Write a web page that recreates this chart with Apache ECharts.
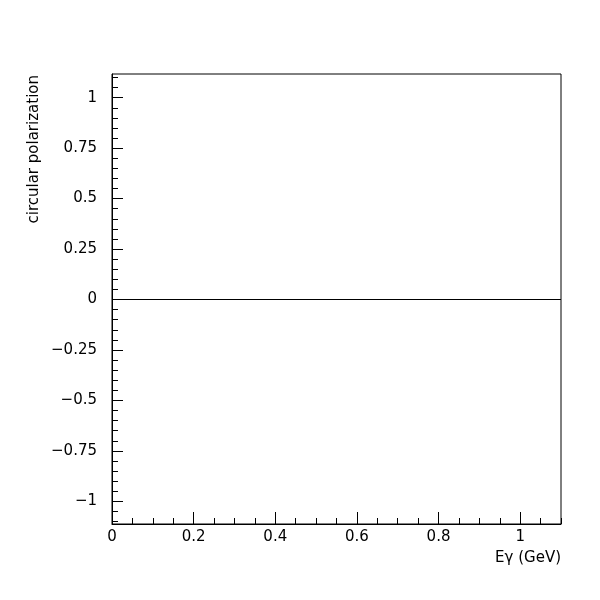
<!DOCTYPE html>
<html>
<head>
<meta charset="utf-8">
<script src="https://cdn.jsdelivr.net/npm/echarts@6/dist/echarts.min.js"></script>
<style>html,body{margin:0;padding:0;background:#fff;}#c{width:600px;height:600px;}</style>
</head>
<body>
<div id="c"></div>
<script>
var energy = [0, 1.1];
var polarization = [0, 0];
var xMajorTicks = [0, 0.2, 0.4, 0.6, 0.8, 1.0];
var yMajorTicks = [-1, -0.75, -0.5, -0.25, 0, 0.25, 0.5, 0.75, 1];
var xTitle = 'Eγ (GeV)';
var yTitle = 'circular polarization';

var xMinorTicks = [];
for (var i = 0; i <= 22; i++) xMinorTicks.push(+(i * 0.05).toFixed(2));
var yMinorTicks = [];
for (var j = -22; j <= 22; j++) yMinorTicks.push(+(j * 0.05).toFixed(2));

function fmt(v) {
  var s = String(+v.toFixed(2));
  return s.charAt(0) === '-' ? '\u2212' + s.slice(1) : s;
}

var FONT = 'DejaVu Sans';
var Y_MIN = -1.1125, Y_MAX = 1.1175;
var chart = echarts.init(document.getElementById('c'), null, {renderer: 'canvas'});
var lineStyle = {color: '#000', width: 1};
chart.setOption({
  animation: false,
  backgroundColor: '#fff',
  grid: {left: 112, top: 74, width: 449, height: 450, show: true, borderColor: '#000', borderWidth: 1, containLabel: false},
  xAxis: [
    {type: 'value', min: 0, max: 1.1, position: 'bottom',
     axisLine: {show: true, onZero: false, lineStyle: lineStyle},
     axisTick: {show: true, inside: true, length: 12, lineStyle: lineStyle, customValues: xMajorTicks},
     axisLabel: {show: true, customValues: xMajorTicks, formatter: fmt, color: '#000', fontFamily: FONT, fontSize: 15, margin: 6},
     splitLine: {show: false}},
    {type: 'value', min: 0, max: 1.1, position: 'bottom',
     axisLine: {show: false, onZero: false},
     axisTick: {show: true, inside: true, length: 6, lineStyle: lineStyle, customValues: xMinorTicks},
     axisLabel: {show: false}, splitLine: {show: false}}
  ],
  yAxis: [
    {type: 'value', min: Y_MIN, max: Y_MAX, position: 'left',
     axisLine: {show: true, onZero: false, lineStyle: lineStyle},
     axisTick: {show: true, inside: true, length: 11, lineStyle: lineStyle, customValues: yMajorTicks},
     axisLabel: {show: true, customValues: yMajorTicks, formatter: fmt, color: '#000', fontFamily: FONT, fontSize: 15, margin: 15},
     splitLine: {show: false}},
    {type: 'value', min: Y_MIN, max: Y_MAX, position: 'left',
     axisLine: {show: false, onZero: false},
     axisTick: {show: true, inside: true, length: 6, lineStyle: lineStyle, customValues: yMinorTicks},
     axisLabel: {show: false}, splitLine: {show: false}}
  ],
  series: [{
    type: 'line', xAxisIndex: 0, yAxisIndex: 0,
    data: energy.map(function (e, k) { return [e, polarization[k]]; }),
    symbol: 'none', lineStyle: {color: '#000', width: 1}, silent: true
  }],
  graphic: [
    {type: 'text', x: 561, y: 558.5, style: {text: xTitle, fill: '#000', font: '15px "DejaVu Sans"', align: 'right', verticalAlign: 'middle'}},
    {type: 'text', x: 34.5, y: 75, rotation: Math.PI / 2, style: {text: yTitle, fill: '#000', font: '15px "DejaVu Sans"', align: 'right', verticalAlign: 'middle'}}
  ]
});
</script>
</body>
</html>
